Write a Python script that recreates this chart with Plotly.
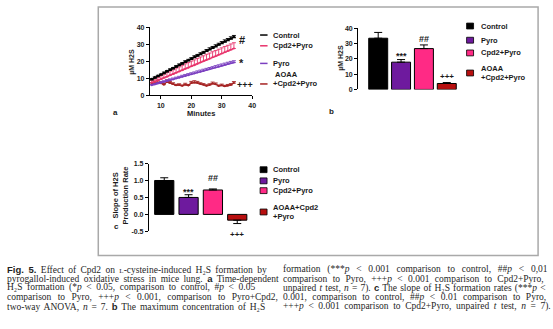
import plotly.graph_objects as go

W, H = 553, 329

# ---- panel a: time course of H2S formation ----
minutes = [7, 8, 9, 10, 11, 12, 13, 14, 15, 16, 17, 18, 19, 20,
           21, 22, 23, 24, 25, 26, 27, 28, 29, 30, 31, 32, 33, 34]
control = [9.4, 10.3, 11.2, 12.1, 13.0, 14.0, 14.9, 15.8, 16.8, 17.7, 18.6, 19.6, 20.5, 21.4,
           22.4, 23.3, 24.2, 25.1, 26.1, 27.0, 27.9, 28.8, 29.8, 30.7, 31.6, 32.5, 33.4, 34.3]
control_err = [0.5, 0.6, 0.6, 0.5, 0.7, 0.6, 0.7, 0.6, 0.7, 0.8, 0.7, 0.8, 0.7, 0.8,
               0.9, 0.8, 0.9, 0.8, 0.9, 1.0, 0.9, 1.0, 0.9, 1.0, 1.1, 1.0, 1.1, 1.0]
cpd2_pyro = [7.5, 8.1, 8.8, 9.5, 10.3, 11.0, 11.8, 12.5, 13.3, 14.0, 14.8, 15.6, 16.3, 17.1,
             17.8, 18.6, 19.4, 20.1, 20.9, 21.6, 22.4, 23.1, 23.9, 24.6, 25.4, 26.1, 26.9, 27.6]
cpd2_pyro_err = [1.2, 1.5, 1.8, 2.0, 2.2, 2.4, 2.5, 2.6, 2.8, 2.8, 2.9, 3.0, 3.0, 3.1,
                 3.1, 3.2, 3.2, 3.2, 3.3, 3.3, 3.3, 3.3, 3.3, 3.4, 3.4, 3.4, 3.4, 3.4]
pyro = [6.0, 6.4, 6.9, 7.4, 7.9, 8.4, 8.9, 9.4, 9.9, 10.4, 10.9, 11.4, 11.9, 12.4,
        12.9, 13.4, 13.9, 14.4, 14.9, 15.4, 15.9, 16.4, 16.9, 17.4, 17.9, 18.4, 18.9, 19.3]
pyro_err = [0.5, 0.6, 0.6, 0.7, 0.7, 0.7, 0.8, 0.8, 0.8, 0.8, 0.9, 0.9, 0.9, 0.9,
            0.9, 1.0, 1.0, 1.0, 1.0, 1.0, 1.0, 1.1, 1.1, 1.1, 1.1, 1.1, 1.1, 1.1]
aoaa = [6.6, 6.9, 7.6, 7.1, 6.3, 7.9, 7.3, 6.6, 5.9, 6.1, 5.6, 6.3, 5.8, 7.2,
        7.5, 7.3, 6.6, 6.2, 5.6, 6.1, 6.9, 6.5, 5.5, 5.9, 5.3, 5.7, 6.1, 7.2]
aoaa_err = [0.9, 1.1, 1.4, 0.8, 0.7, 1.2, 0.9, 0.8, 0.6, 0.7, 0.5, 0.8, 0.6, 1.0,
            1.1, 0.9, 0.8, 0.7, 0.6, 0.7, 0.9, 0.8, 0.6, 0.7, 0.6, 0.7, 0.8, 0.9]

# ---- panels b and c: group summaries ----
groups = ["Control", "Pyro", "Cpd2+Pyro", "AOAA+Cpd2+Pyro"]
max_h2s = [33.6, 17.9, 26.8, 3.9]
max_h2s_err = [3.8, 1.7, 2.4, 0.6]
slope = [1.00, 0.50, 0.72, -0.17]
slope_err = [0.08, 0.08, 0.03, 0.10]

a_ticks = [10, 20, 30, 40]
b_ticks = [0, 10, 20, 30, 40]
c_ticks = [-0.5, 0.0, 0.5, 1.0, 1.5]
c_ticktext = ["-0.5", "0.0", "0.5", "1.0", "1.5"]

BLACK = "#000000"
PURPLE = "#6E1A9E"
PINK = "#FF2A85"
DARKRED = "#B80F0F"
LINE_PINK = "#E8336B"
LINE_PURPLE = "#7B3FC0"
LINE_RED = "#A52222"
bar_colors = [BLACK, PURPLE, PINK, DARKRED]

SANS = "Liberation Sans"
SERIF = "Liberation Serif"
INK = "#1a1a1a"


def px(x):
    return x / W


def py(y):
    return 1 - y / H


fig = go.Figure()

zeros = [0] * len(minutes)


def line_trace(ys, err, color, symbol, msize):
    return go.Scatter(
        x=minutes, y=ys, mode="lines+markers", xaxis="x", yaxis="y",
        line=dict(color=color, width=1.2),
        marker=dict(symbol=symbol, size=msize, color=color),
        error_y=dict(type="data", symmetric=False, array=err, arrayminus=zeros,
                     color=color, thickness=0.9, width=2),
        showlegend=False, hoverinfo="skip",
    )


fig.add_trace(line_trace(aoaa, aoaa_err, LINE_RED, "circle", 2))
fig.add_trace(line_trace(pyro, pyro_err, LINE_PURPLE, "circle", 2))
fig.add_trace(line_trace(cpd2_pyro, cpd2_pyro_err, LINE_PINK, "circle", 2))
fig.add_trace(line_trace(control, control_err, BLACK, "triangle-up", 4))

# maximum concentration bars
fig.add_trace(go.Bar(
    x=groups, y=max_h2s, xaxis="x2", yaxis="y2", width=0.83,
    marker=dict(color=bar_colors, line=dict(color=BLACK, width=1)),
    error_y=dict(type="data", symmetric=False, array=max_h2s_err,
                 arrayminus=[0] * len(groups), color=BLACK, thickness=1, width=4),
    showlegend=False, hoverinfo="skip",
))

# slope bars, error drawn away from zero
slope_up = [e if v >= 0 else 0 for v, e in zip(slope, slope_err)]
slope_down = [e if v < 0 else 0 for v, e in zip(slope, slope_err)]
fig.add_trace(go.Bar(
    x=groups, y=slope, xaxis="x3", yaxis="y3", width=0.79,
    marker=dict(color=bar_colors, line=dict(color=BLACK, width=1)),
    error_y=dict(type="data", symmetric=False, array=slope_up,
                 arrayminus=slope_down, color=BLACK, thickness=1, width=4),
    showlegend=False, hoverinfo="skip",
))

tickfont = dict(family=SANS, size=7, color=INK, weight="bold")
yax_common = dict(showline=True, linecolor=BLACK, linewidth=1, ticks="outside",
                  ticklen=3, tickcolor=BLACK, tickwidth=1, showgrid=False,
                  zeroline=False, tickfont=tickfont, fixedrange=True)

fig.update_layout(
    width=W, height=H, margin=dict(l=0, r=0, t=0, b=0),
    paper_bgcolor="white", plot_bgcolor="rgba(0,0,0,0)",
    xaxis=dict(domain=[px(151), px(254)], range=[6.4, 40], tickvals=a_ticks,
               anchor="y", showline=True, linecolor=BLACK, linewidth=1,
               ticks="outside", ticklen=3, tickcolor=BLACK, showgrid=False,
               zeroline=False, tickfont=tickfont),
    yaxis=dict(domain=[py(93.3), py(24)], range=[0, 40], tickvals=b_ticks,
               anchor="x", **yax_common),
    xaxis2=dict(domain=[px(360.7), px(462)], range=[-0.88, 3.52], anchor="y2",
                showline=False, showticklabels=False, ticks="", showgrid=False,
                zeroline=False),
    yaxis2=dict(domain=[py(87.3), py(25)], range=[0, 40], tickvals=b_ticks,
                anchor="x2", **yax_common),
    xaxis3=dict(domain=[px(150), px(250)], range=[-0.63, 3.45], anchor="y3",
                showline=False, showticklabels=False, ticks="", showgrid=False,
                zeroline=False),
    yaxis3=dict(domain=[py(232.3), py(163)], range=[-0.5, 1.5], tickvals=c_ticks,
                ticktext=c_ticktext, anchor="x3", **yax_common),
)

shapes = [dict(type="rect", xref="paper", yref="paper", x0=px(99), x1=px(542),
               y0=py(257), y1=py(3), line=dict(color="#a9a9a9", width=1.5))]
annotations = []


def text(x, y, s, size=7.5, anchor="left", bold=True, family=SANS, color=INK,
         angle=0, yanchor="middle"):
    annotations.append(dict(
        x=px(x), y=py(y), xref="paper", yref="paper", text=s, showarrow=False,
        xanchor=anchor, yanchor=yanchor, textangle=angle,
        font=dict(family=family, size=size, color=color,
                  weight="bold" if bold else "normal"),
    ))


# axis titles and panel letters
text(202.5, 112, "Minutes", 7.5, "center")
text(133, 59, "µM H2S", 7, "center", angle=-90)
text(343.5, 55, "µM H2S", 7, "center", angle=-90)
text(121.5, 196, "Slope of H2S<br>Production Rate", 7.5, "center", angle=-90)
text(112, 111, "a", 8)
text(329.5, 110, "b", 8)
text(113, 227, "c", 8)

# panel a legend (line swatches)
a_legend = [("Control", BLACK, 31.7), ("Cpd2+Pyro", LINE_PINK, 42.7),
            ("Pyro", LINE_PURPLE, 60.7)]
for name, col, yy in a_legend:
    shapes.append(dict(type="line", xref="paper", yref="paper", x0=px(262),
                       x1=px(269.5), y0=py(yy), y1=py(yy), line=dict(color=col, width=1.5)))
    text(273, yy, name, 7.5)
shapes.append(dict(type="line", xref="paper", yref="paper", x0=px(262), x1=px(269.5),
                   y0=py(81.7), y1=py(81.7), line=dict(color=LINE_RED, width=1.5)))
text(275, 72.3, "AOAA", 7.5)
text(273, 81.7, "+Cpd2+Pyro", 7.5)


# square legends for the bar panels
def square(x, y, col):
    shapes.append(dict(type="rect", xref="paper", yref="paper", x0=px(x), x1=px(x + 7),
                       y0=py(y + 3), y1=py(y - 3), fillcolor=col,
                       line=dict(color=BLACK, width=0.8)))


b_legend = [("Control", 22.5), ("Pyro", 37.0), ("Cpd2+Pyro", 50.0)]
for (name, yy), col in zip(b_legend, bar_colors):
    square(470, yy, col)
    text(482, yy, name, 7.5)
square(470, 70.5, DARKRED)
text(482, 65.5, "AOAA", 7.5)
text(482, 75.5, "+Cpd2+Pyro", 7.5)

c_legend = [("Control", 169.3), ("Pyro", 180.7), ("Cpd2+Pyro", 190.7)]
for (name, yy), col in zip(c_legend, bar_colors):
    square(262, yy, col)
    text(273, yy, name, 7.5)
square(262, 212.5, DARKRED)
text(273, 208.3, "AOAA+Cpd2", 7.5)
text(273, 217.3, "+Pyro", 7.5)


# significance marks
def mark(xref, yref, x, y, s, size, yshift):
    annotations.append(dict(x=x, y=y, xref=xref, yref=yref, text=s, showarrow=False,
                            xanchor="center", yanchor="middle", yshift=yshift,
                            font=dict(family=SANS, size=size, color=INK, weight="bold")))


mark("x", "y", 36.6, control[-1], "#", 11, -3)
mark("x", "y", 36.6, pyro[-1], "*", 11, 0)
mark("x", "y", 37.8, aoaa[-1], "+++", 9, -2)

mark("x2", "y2", "Pyro", max_h2s[1] + max_h2s_err[1], "***", 9, 4)
mark("x2", "y2", "Cpd2+Pyro", max_h2s[2] + max_h2s_err[2], "##", 9, 6)
mark("x2", "y2", "AOAA+Cpd2+Pyro", max_h2s[3] + max_h2s_err[3], "+++", 8, 6)

mark("x3", "y3", "Pyro", slope[1] + slope_err[1], "***", 9, 3)
mark("x3", "y3", "Cpd2+Pyro", slope[2] + slope_err[2], "##", 9, 11)
mark("x3", "y3", "AOAA+Cpd2+Pyro", slope[3] - slope_err[3], "+++", 8, -11)

# figure legend, two justified columns of serif text (word spacing per line)
SC = '<span style="font-size:7px">L</span>'
SF = '<span style="font-family:Liberation Sans"><b>{}</b></span>'
H2S = "H₂S"
left_lines = [
    (SF.format("Fig. 5.") + " Effect of Cpd2 on " + SC
     + "-cysteine-induced " + H2S + " formation by", 2.0),
    ("pyrogallol-induced oxidative stress in mice lung. " + SF.format("a")
     + " Time-dependent", 2.0),
    (H2S + " formation (*<i>p</i> &lt; 0.05, comparison to control, "
     "#<i>p</i> &lt; 0.05", 2.2),
    ("comparison to Pyro, +++<i>p</i> &lt; 0.001, comparison to Pyro+Cpd2,", 4.0),
    ("two-way ANOVA, <i>n</i> = 7. " + SF.format("b")
     + " The maximum concentration of " + H2S, 1.5),
]
right_lines = [
    ("formation (***<i>p</i> &lt; 0.001 comparison to control, ##<i>p</i> &lt; 0,01", 4.4),
    ("comparison to Pyro, +++<i>p</i> &lt; 0.001 comparison to Cpd2+Pyro,", 3.0),
    ("unpaired <i>t</i> test, <i>n</i> = 7). " + SF.format("c")
     + " The slope of " + H2S + " formation rates (***<i>p</i> &lt;", 0.8),
    ("0.001, comparison to control, ##<i>p</i> &lt; 0.01 comparison to Pyro,", 3.2),
    ("+++<i>p</i> &lt; 0.001 comparison to Cpd2+Pyro, unpaired <i>t</i> test, "
     "<i>n</i> = 7).", 2.2),
]
line_y = [271, 280.5, 290, 299.5, 309]
for (s, ws), yy in zip(left_lines, line_y):
    text(5, yy, '<span style="word-spacing:%.1fpx">%s</span>' % (ws, s), 9.5,
         bold=False, family=SERIF, color="#1f1f1f")
for (s, ws), yy in zip(right_lines, line_y):
    text(283, yy, '<span style="word-spacing:%.1fpx">%s</span>' % (ws, s), 9.5,
         bold=False, family=SERIF, color="#1f1f1f")

fig.update_layout(shapes=shapes, annotations=annotations)
fig.write_html("out.html")
